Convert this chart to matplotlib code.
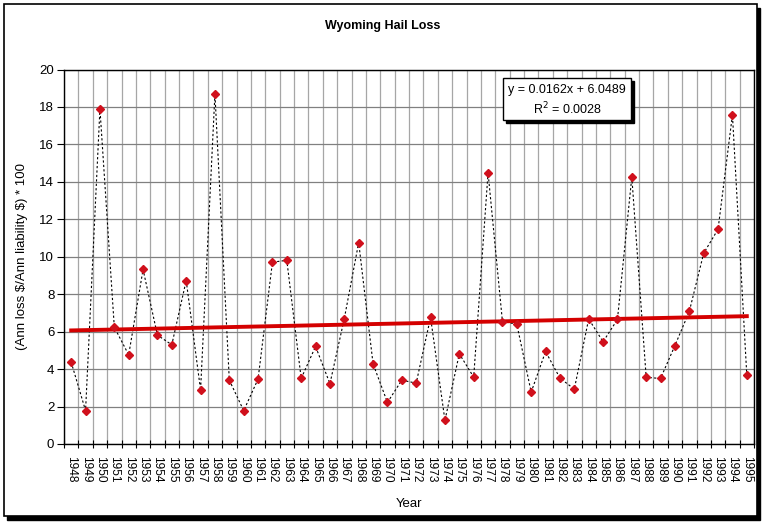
import numpy as np
import matplotlib
matplotlib.use("Agg")
import matplotlib.pyplot as plt
from matplotlib.patches import Rectangle

plt.rcParams["font.family"] = ["Liberation Sans", "DejaVu Sans"]

# datos
years = list(range(1948, 1996))
loss = [4.37, 1.78, 17.9, 6.24, 4.76, 9.32, 5.81, 5.30, 8.73, 2.88,
        18.7, 3.41, 1.78, 3.47, 9.71, 9.81, 3.50, 5.21, 3.22, 6.70,
        10.76, 4.28, 2.22, 3.41, 3.25, 6.76, 1.26, 4.82, 3.57, 14.49,
        6.54, 6.40, 2.77, 4.94, 3.52, 2.93, 6.68, 5.46, 6.65, 14.26,
        3.56, 3.50, 5.26, 7.08, 10.19, 11.47, 17.58, 3.66]

# tendencia lineal (Excel, x = 1..n)
slope = 0.0162
intercept = 6.0489
eq_text = "y = 0.0162x + 6.0489"
r2_text = "R$^2$ = 0.0028"

fig = plt.figure(figsize=(7.68, 5.25), dpi=100)

# marco exterior con sombra
W, H = 768.0, 525.0
fig.patches.append(Rectangle((7 / W, 1 - 520 / H), 753 / W, 512 / H,
                             transform=fig.transFigure, facecolor="black",
                             edgecolor="black", zorder=0))
fig.patches.append(Rectangle((4 / W, 1 - 516 / H), 753 / W, 512 / H,
                             transform=fig.transFigure, facecolor="white",
                             edgecolor="black", linewidth=1.2, zorder=1))

ax = fig.add_axes([64 / W, 1 - 444 / H, 690 / W, 374.5 / H])
ax.set_zorder(2)

x = np.arange(len(years))
ax.plot(x, loss, color="black", linestyle=(0, (2, 2)), linewidth=0.8, zorder=3)
ax.plot(x, loss, linestyle="none", marker="D", markersize=4,
        color="#d0101c", zorder=4)

trend = intercept + slope * (x + 1)
ax.plot(x, trend, color="#d40000", linewidth=2.8, zorder=3.5)

ax.set_xlim(-0.5, len(years) - 0.5)
ax.set_ylim(0, 20)
ax.set_yticks(range(0, 21, 2))

# categorias: marcas en los limites, etiquetas en el centro
ax.set_xticks(np.arange(len(years) + 1) - 0.5)
ax.set_xticklabels([])
ax.set_xticks(x, minor=True)
ax.set_xticklabels([str(y) for y in years], minor=True, rotation=-90,
                   fontsize=8.6)
ax.tick_params(axis="x", which="major", direction="inout", length=6,
               width=0.8)
ax.tick_params(axis="x", which="minor", length=0, pad=9)
ax.tick_params(axis="y", direction="out", length=5, width=0.8,
               labelsize=9.5, pad=2)

ax.grid(axis="y", color="#808080", linewidth=0.9)
ax.grid(axis="x", which="major", color="#a6a6a6", linewidth=0.9)
ax.set_axisbelow(True)
for s in ax.spines.values():
    s.set_color("black")
    s.set_linewidth(1.0)

ax.set_xlabel("Year", fontsize=9.5, labelpad=11)
ax.set_ylabel(r"(Ann loss \$/Ann liability \$) * 100", fontsize=9.5,
              labelpad=8)
fig.text(383 / W, 1 - 26 / H, "Wyoming Hail Loss", ha="center", va="center",
         fontsize=9, fontweight="bold")

# caja de la ecuacion con sombra
bx0, by0, bw, bh = 503, 78, 128, 42
fig.patches.append(Rectangle(((bx0 + 3) / W, 1 - (by0 + bh + 3) / H),
                             bw / W, bh / H, transform=fig.transFigure,
                             facecolor="black", edgecolor="black", zorder=5))
fig.patches.append(Rectangle((bx0 / W, 1 - (by0 + bh) / H), bw / W, bh / H,
                             transform=fig.transFigure, facecolor="white",
                             edgecolor="black", linewidth=1.0, zorder=6))
fig.text((bx0 + bw / 2) / W, 1 - (by0 + 12) / H, eq_text, ha="center",
         va="center", fontsize=9, zorder=7)
fig.text((bx0 + bw / 2) / W, 1 - (by0 + 31) / H, r2_text, ha="center",
         va="center", fontsize=9, zorder=7)

fig.savefig("out.png", dpi=100)
